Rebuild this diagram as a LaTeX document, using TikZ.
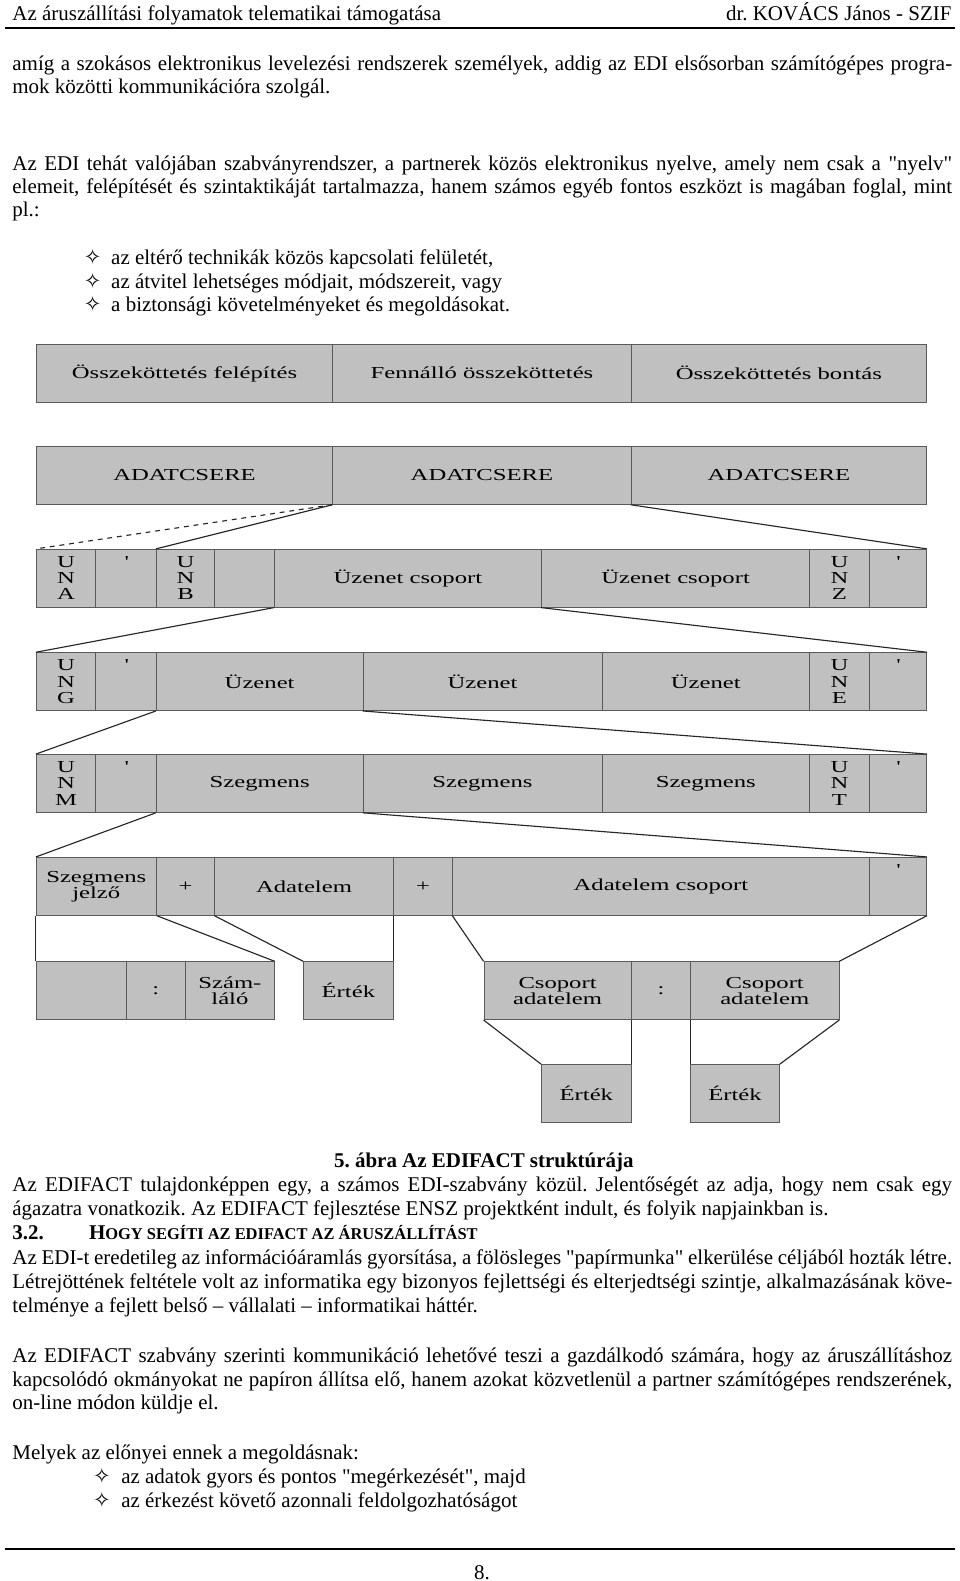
\documentclass[tikz,border=0pt]{standalone}
\usepackage{fontspec}
\setmainfont[FakeStretch=1.0, Ligatures=TeXOff]{Liberation Serif}
\newfontfamily\diagfont[FakeStretch=1.47]{Liberation Serif}
\newfontfamily\headcaps[FakeStretch=1.0, Ligatures=TeXOff]{Liberation Serif}
\newfontfamily\symfont{DejaVu Sans}
\usetikzlibrary{positioning}

\definecolor{cellgray}{HTML}{C0C0C0}
\definecolor{celledge}{HTML}{5A5A5A}

\newcommand{\bodytext}{\fontsize{13}{15}\selectfont\frenchspacing}
\newcommand{\diagtext}{\diagfont\fontsize{10.4}{10}\selectfont}
\newcommand{\bulfont}{\symfont\fontsize{13}{14}\selectfont}
\newcommand{\fullline}[1]{\makebox[582.5pt][s]{#1}}

\begin{document}
\begin{tikzpicture}[
  x=0.625pt, y=-0.625pt,
  cell/.style={draw=celledge, fill=cellgray, line width=0.5pt, inner sep=0pt,
    minimum height=35.9pt, font=\diagtext, align=center},
  cw/.style={minimum width={#1*0.625pt}},
  tick/.style={label={[anchor=north, inner sep=0pt, yshift=-4.5pt, font=\diagtext]north:\textquotesingle}},
  link/.style={line width=0.7pt, draw=black!85},
  txt/.style={inner sep=0pt, anchor=base west, font=\bodytext},
  bul/.style={inner sep=0pt, anchor=base, font=\bulfont},
  rulebar/.style={line width=1.1pt},
]
\fill[white] (0,0) rectangle (952,1568);
\useasboundingbox (0,0) rectangle (952,1568);

% Page head
\node[txt] (headl) at (12,20) {Az áruszállítási folyamatok telematikai támogatása};
\node[txt, anchor=base east] (headr) at (944,20) {dr. KOVÁCS János - SZIF};
\coordinate (headrulel) at (5,28);
\coordinate (headruler) at (947,28);
\draw[rulebar] (headrulel) -- (headruler);

% Text above the figure
\node[txt] (pa1) at (12,70) {\fullline{amíg a szokásos elektronikus levelezési rendszerek személyek, addig az EDI elsősorban számítógépes progra-}};
\node[txt] (pa2) at (12,93) {mok közötti kommunikációra szolgál.};
\node[txt] (pb1) at (12,169) {\fullline{Az EDI tehát valójában szabványrendszer, a partnerek közös elektronikus nyelve, amely nem csak a "nyelv"}};
\node[txt] (pb2) at (12,192) {\fullline{elemeit, felépítését és szintaktikáját tartalmazza, hanem számos egyéb fontos eszközt is magában foglal, mint}};
\node[txt] (pb3) at (12,215) {pl.:};

\node[bul] (ba1) at (92,262) {✧};
\node[txt] (ta1) at (110,262) {az eltérő technikák közös kapcsolati felületét,};
\node[bul] (ba2) at (92,286) {✧};
\node[txt] (ta2) at (110,286) {az átvitel lehetséges módjait, módszereit, vagy};
\node[bul] (ba3) at (92,309) {✧};
\node[txt] (ta3) at (110,309) {a biztonsági követelményeket és megoldásokat.};

% Row 1 - connection phases
\node[cell, cw=294] (fel)  at (183,370)   {Összeköttetés felépítés};
\node[cell, cw=296] (fenn) at (478,370)   {Fennálló összeköttetés};
\node[cell, cw=293] (bont) at (772.5,370) {Összeköttetés bontás};

% Row 2 - data exchange
\node[cell, cw=294] (adat1) at (183,471.5)   {ADATCSERE};
\node[cell, cw=296] (adat2) at (478,471.5)   {ADATCSERE};
\node[cell, cw=293] (adat3) at (772.5,471.5) {ADATCSERE};

% Row 3 - interchange
\node[cell, cw=59]        (una)    at (65.5,573.5)  {U\\N\\A};
\node[cell, cw=60, tick]  (unasep) at (125,573.5)   {};
\node[cell, cw=58]        (unb)    at (184,573.5)   {U\\N\\B};
\node[cell, cw=59]        (unbsep) at (242.5,573.5) {};
\node[cell, cw=265]       (ucs1)   at (404.5,573.5) {Üzenet csoport};
\node[cell, cw=266]       (ucs2)   at (670,573.5)   {Üzenet csoport};
\node[cell, cw=59]        (unz)    at (832.5,573.5) {U\\N\\Z};
\node[cell, cw=57, tick]  (unzsep) at (890.5,573.5) {};

% Row 4 - message group
\node[cell, cw=59]        (ung)    at (65.5,676)  {U\\N\\G};
\node[cell, cw=60, tick]  (ungsep) at (125,676)   {};
\node[cell, cw=205]       (uz1)    at (257.5,676) {Üzenet};
\node[cell, cw=237]       (uz2)    at (478.5,676) {Üzenet};
\node[cell, cw=206]       (uz3)    at (700,676)   {Üzenet};
\node[cell, cw=59]        (une)    at (832.5,676) {U\\N\\E};
\node[cell, cw=57, tick]  (unesep) at (890.5,676) {};

% Row 5 - message
\node[cell, cw=59]        (unm)    at (65.5,777)  {U\\N\\M};
\node[cell, cw=60, tick]  (unmsep) at (125,777)   {};
\node[cell, cw=205]       (sz1)    at (257.5,777) {Szegmens};
\node[cell, cw=237]       (sz2)    at (478.5,777) {Szegmens};
\node[cell, cw=206]       (sz3)    at (700,777)   {Szegmens};
\node[cell, cw=59]        (unt)    at (832.5,777) {U\\N\\T};
\node[cell, cw=57, tick]  (untsep) at (890.5,777) {};

% Row 6 - segment
\node[cell, cw=119]       (sjel)    at (95.5,879)  {Szegmens\\jelző};
\node[cell, cw=58]        (plus1)   at (184,879)   {+};
\node[cell, cw=177]       (adel)    at (301.5,879) {Adatelem};
\node[cell, cw=59]        (plus2)   at (419.5,879) {+};
\node[cell, cw=413]       (adcs)    at (655.5,879) {Adatelem csoport};
\node[cell, cw=57, tick]  (adcssep) at (890.5,879) {};

% Row 7 - data elements
\node[cell, cw=89]  (szamures) at (80.5,982.5)  {};
\node[cell, cw=59]  (szamcol)  at (154.5,982.5) {:};
\node[cell, cw=88]  (szam)     at (228,982.5)   {Szám-\\láló};
\node[cell, cw=89]  (ertek)    at (345.5,982.5) {Érték};
\node[cell, cw=146] (csad1)    at (553,982.5)   {Csoport\\adatelem};
\node[cell, cw=59]  (csadcol)  at (655.5,982.5) {:};
\node[cell, cw=147] (csad2)    at (758.5,982.5) {Csoport\\adatelem};

% Row 8 - values
\node[cell, cw=89] (ertek1) at (581.5,1084.5) {Érték};
\node[cell, cw=88] (ertek2) at (729,1084.5)   {Érték};

% Expansion lines
\draw[link, dashed] (adat2.south west) -- (una.north west);
\draw[link] (adat2.south west) -- (unb.north west);
\draw[link] (adat3.south west) -- (unzsep.north east);
\draw[link] (ucs1.south west) -- (ung.north west);
\draw[link] (ucs2.south west) -- (unesep.north east);
\draw[link] (uz1.south west) -- (unm.north west);
\draw[link] (uz2.south west) -- (untsep.north east);
\draw[link] (sz1.south west) -- (sjel.north west);
\draw[link] (sz2.south west) -- (adcssep.north east);
\draw[link] (sjel.south west) -- (szamures.north west);
\draw[link] (sjel.south east) -- (szam.north east);
\draw[link] (adel.south west) -- (ertek.north west);
\draw[link] (adel.south east) -- (ertek.north east);
\draw[link] (adcs.south west) -- (csad1.north west);
\draw[link] (adcssep.south east) -- (csad2.north east);
\draw[link] (csad1.south west) -- (ertek1.north west);
\draw[link] (csad1.south east) -- (ertek1.north east);
\draw[link] (csad2.south west) -- (ertek2.north west);
\draw[link] (csad2.south east) -- (ertek2.north east);

% Caption and text below the figure
\node[txt, font=\bodytext\bfseries] (cap) at (331,1158) {5. ábra Az EDIFACT struktúrája};
\node[txt] (pc1) at (12,1182) {\fullline{Az EDIFACT tulajdonképpen egy, a számos EDI-szabvány közül. Jelentőségét az adja, hogy nem csak egy}};
\node[txt] (pc2) at (12,1205) {ágazatra vonatkozik. Az EDIFACT fejlesztése ENSZ projektként indult, és folyik napjainkban is.};
\node[txt, font=\bodytext\bfseries] (secnum) at (12,1229) {3.2.};
\node[txt, font=\bodytext\bfseries] (sectitle) at (88,1229) {H{\headcaps\bfseries\fontsize{10.2}{12}\selectfont OGY SEGÍTI AZ EDIFACT AZ ÁRUSZÁLLÍTÁST}};
\node[txt] (pd1) at (12,1254) {\fullline{Az EDI-t eredetileg az információáramlás gyorsítása, a fölösleges "papírmunka" elkerülése céljából hozták létre.}};
\node[txt] (pd2) at (12,1278) {\fullline{Létrejöttének feltétele volt az informatika egy bizonyos fejlettségi és elterjedtségi szintje, alkalmazásának köve-}};
\node[txt] (pd3) at (12,1302) {telménye a fejlett belső – vállalati – informatikai háttér.};
\node[txt] (pe1) at (12,1351) {\fullline{Az EDIFACT szabvány szerinti kommunikáció lehetővé teszi a gazdálkodó számára, hogy az áruszállításhoz}};
\node[txt] (pe2) at (12,1375) {\fullline{kapcsolódó okmányokat ne papíron állítsa elő, hanem azokat közvetlenül a partner számítógépes rendszerének,}};
\node[txt] (pe3) at (12,1398) {on-line módon küldje el.};
\node[txt] (pf1) at (12,1447) {Melyek az előnyei ennek a megoldásnak:};
\node[bul] (bb1) at (101,1471) {✧};
\node[txt] (tb1) at (120,1471) {az adatok gyors és pontos "megérkezését", majd};
\node[bul] (bb2) at (101,1495) {✧};
\node[txt] (tb2) at (120,1495) {az érkezést követő azonnali feldolgozhatóságot};

% Page foot
\coordinate (footrulel) at (5,1536);
\coordinate (footruler) at (947,1536);
\draw[rulebar] (footrulel) -- (footruler);
\node[txt, anchor=base] (pagenum) at (478,1566) {8.};
\end{tikzpicture}
\end{document}
